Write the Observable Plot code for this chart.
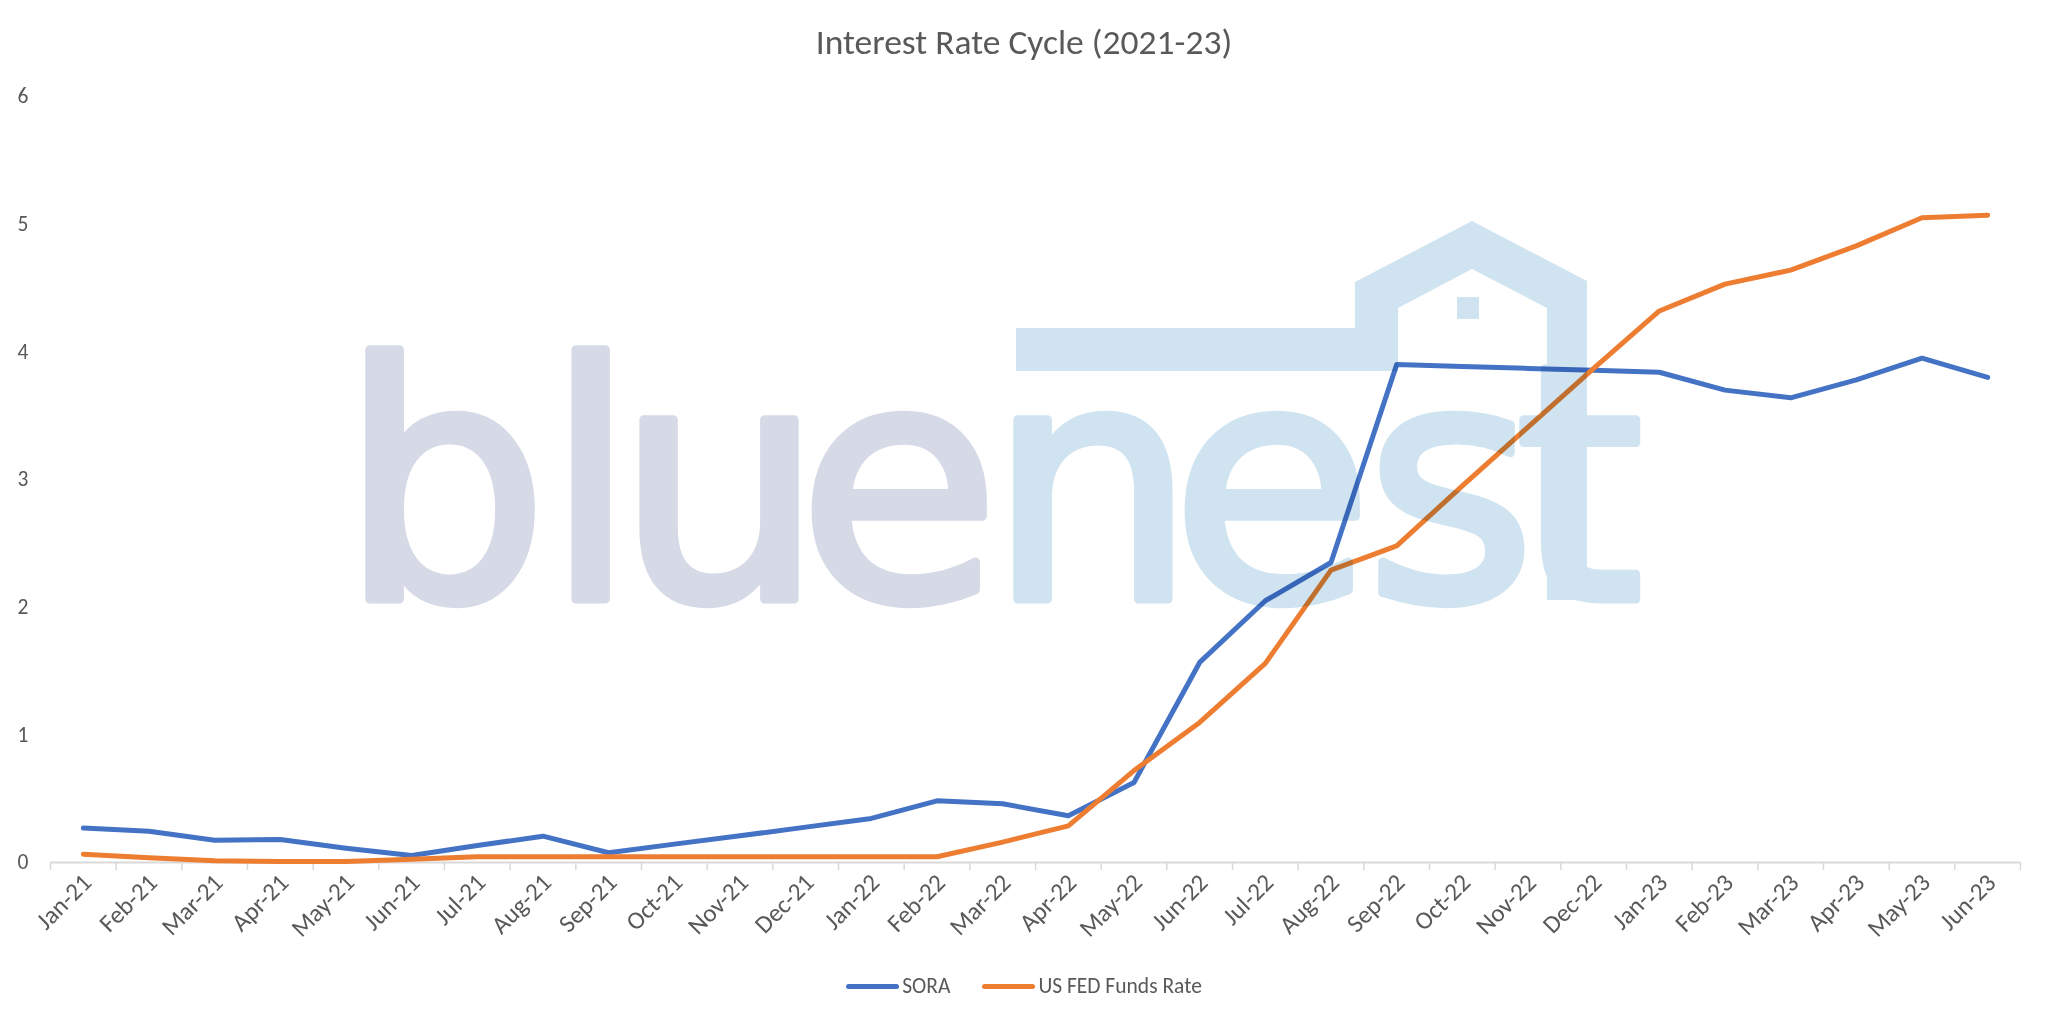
<!DOCTYPE html>
<html>
<head>
<meta charset="utf-8">
<script src="https://cdn.jsdelivr.net/npm/d3@7"></script>
<script src="https://cdn.jsdelivr.net/npm/@observablehq/plot@0.6"></script>
<style>
  html, body { margin: 0; padding: 0; background: #fff; }
  #wrap { position: relative; width: 2048px; height: 1023px; overflow: hidden; font-family: "Carlito", "Liberation Sans Narrow", "Open Sans", sans-serif; color: #595959; }
  #title { position: absolute; left: 0; width: 2048px; top: 23px; text-align: center; font-size: 35.5px; line-height: 38px; color: #595959; }
  #chart { position: absolute; left: 0; top: 0; }
  #logo { position: absolute; left: 0; top: 0; mix-blend-mode: multiply; pointer-events: none; }
  #legend { position: absolute; left: 0; width: 2048px; top: 971px; display: flex; justify-content: center; align-items: center; font-size: 21.5px; line-height: 30px; color: #595959; }
  .item { display: flex; align-items: center; margin: 0 16px; }
  .sw { width: 53px; height: 5px; border-radius: 3px; margin-right: 3px; }
</style>
</head>
<body>
<div id="wrap">
  <div id="chart"></div>
  <svg id="logo" width="2048" height="1023" viewBox="0 0 2048 1023">
    <text x="340 545 616 798 988 1171 1365 1515" y="599" font-family="DejaVu Sans" font-size="328" stroke-width="9" stroke-linejoin="round"><tspan fill="#D6D9E6" stroke="#D6D9E6">blue</tspan><tspan fill="#CFE3F0" stroke="#CFE3F0">nest</tspan></text>
    <path d="M1016,328 H1355 V282 L1472,221 L1587,281 V600 H1547 V308 L1472,269 L1398,308 V371 H1016 Z" fill="#CFE3F0"/>
    <rect x="1457" y="297" width="22" height="22" fill="#CFE3F0"/>
  </svg>
  <div id="title">Interest Rate Cycle (2021-23)</div>
  <div id="legend"></div>
</div>
<script>
const months = ["Jan-21","Feb-21","Mar-21","Apr-21","May-21","Jun-21","Jul-21","Aug-21","Sep-21","Oct-21","Nov-21","Dec-21",
                "Jan-22","Feb-22","Mar-22","Apr-22","May-22","Jun-22","Jul-22","Aug-22","Sep-22","Oct-22","Nov-22","Dec-22",
                "Jan-23","Feb-23","Mar-23","Apr-23","May-23","Jun-23"];
const sora = [0.27, 0.245, 0.175, 0.18, 0.112, 0.055, 0.133, 0.206, 0.076, 0.144, 0.209, 0.277,
              0.345, 0.483, 0.46, 0.366, 0.627, 1.567, 2.05, 2.35, 3.90, 3.885, 3.87, 3.855,
              3.84, 3.70, 3.64, 3.78, 3.95, 3.80];
const fed = [0.065, 0.037, 0.013, 0.008, 0.008, 0.025, 0.045, 0.045, 0.045, 0.045, 0.045, 0.045,
             0.045, 0.045, 0.16, 0.287, 0.72, 1.097, 1.56, 2.29, 2.48, 2.95, 3.41, 3.87,
             4.32, 4.53, 4.64, 4.83, 5.05, 5.07];
const seriesNames = ["SORA", "US FED Funds Rate"];
const seriesColors = ["#4472C4", "#ED7D31"];
const yTicks = [0, 1, 2, 3, 4, 5, 6];

const rows = [];
months.forEach((m, i) => {
  rows.push({i, month: m, series: seriesNames[0], value: sora[i]});
});
months.forEach((m, i) => {
  rows.push({i, month: m, series: seriesNames[1], value: fed[i]});
});
const boundaries = d3.range(months.length + 1).map(k => k - 0.5);
const font = '"Carlito", "Liberation Sans Narrow", "Open Sans", sans-serif';

const chart = Plot.plot({
  width: 2048,
  height: 960,
  marginLeft: 50,
  marginRight: 28,
  marginTop: 96,
  marginBottom: 98,
  x: {type: "linear", domain: [-0.5, months.length - 0.5]},
  y: {domain: [0, 6]},
  color: {domain: seriesNames, range: seriesColors},
  style: {fontFamily: font, fontSize: "22px", color: "#595959", background: "transparent"},
  marks: [
    Plot.axisY({ticks: yTicks, tickSize: 0, tickPadding: 22, tickFormat: d => String(d), label: null, fontSize: 21.5, fill: "#595959"}),
    Plot.ruleY([0], {stroke: "#D9D9D9", strokeWidth: 2}),
    Plot.axisX({ticks: boundaries, tickSize: 8, stroke: "#D9D9D9", strokeWidth: 1.5, tickFormat: () => "", label: null}),
    Plot.axisX({ticks: d3.range(months.length), tickSize: 0, tickPadding: 16, tickRotate: -45, dx: 4,
                tickFormat: i => months[i], label: null, fontSize: 25, fill: "#595959"}),
    Plot.line(rows, {x: "i", y: "value", z: "series", stroke: "series", strokeWidth: 5,
                     strokeLinejoin: "round", strokeLinecap: "round"})
  ]
});
document.getElementById("chart").appendChild(chart);

const legend = document.getElementById("legend");
seriesNames.forEach((name, k) => {
  const it = document.createElement("div");
  it.className = "item";
  const sw = document.createElement("div");
  sw.className = "sw";
  sw.style.background = seriesColors[k];
  const tx = document.createElement("span");
  tx.textContent = name;
  it.appendChild(sw);
  it.appendChild(tx);
  legend.appendChild(it);
});
</script>
</body>
</html>
